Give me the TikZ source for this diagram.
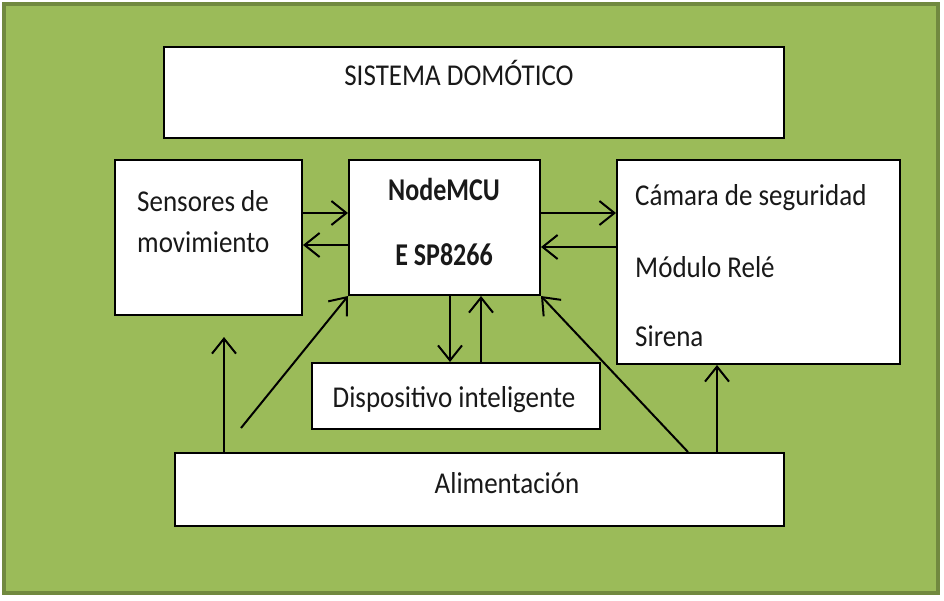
\documentclass[tikz,border=0pt]{standalone}
\usepackage{fontspec}
\setmainfont{Carlito}
\usetikzlibrary{arrows.meta}
\definecolor{bggreen}{HTML}{9BBB59}
\definecolor{edgegreen}{HTML}{71893F}
\newcommand{\tx}[1]{\scalebox{1}[1.12]{#1}}
\newcommand{\tb}[1]{\scalebox{1}[1.22]{\bfseries #1}}
\tikzset{
  box/.style={draw=black, fill=white, line width=2pt, inner sep=0pt},
  lbl/.style={inner sep=0pt, font=\fontsize{27}{32}\selectfont, text=black!90},
  blbl/.style={inner sep=0pt, font=\fontsize{26}{32}\selectfont, text=black!90},
  conn/.style={line width=2pt, -{Straight Barb[length=15pt, width=24pt, line width=2pt]}}
}
\begin{document}
\begin{tikzpicture}[x=1pt, y=-1pt]
\useasboundingbox (0,0) rectangle (944,600);
\fill[white] (0,0) rectangle (944,600);
\draw[fill=bggreen, draw=edgegreen, line width=4pt] (4,4) rectangle (938,593);

% boxes
\node[box, minimum width=620pt, minimum height=91pt] (sys) at (474,92.5) {};
\node[box, minimum width=187pt, minimum height=155pt] (sens) at (208.5,237.5) {};
\node[box, minimum width=191pt, minimum height=135pt] (mcu) at (444.5,227.5) {};
\node[box, minimum width=283pt, minimum height=204pt] (act) at (758.5,262) {};
\node[box, minimum width=288pt, minimum height=66pt] (disp) at (456,396) {};
\node[box, minimum width=609pt, minimum height=73pt] (ali) at (479.5,489.5) {};

% texts
\node[lbl, anchor=base] (tsys) at (459,85) {\tx{SISTEMA DOMÓTICO}};
\node[lbl, anchor=base west] (ts1) at (137,211) {\tx{Sensores de}};
\node[lbl, anchor=base west] (ts2) at (137,252) {\tx{movimiento}};
\node[blbl, anchor=base] (tm1) at (444,200) {\tb{NodeMCU}};
\node[blbl, anchor=base] (tm2) at (444,265) {\tb{E SP8266}};
\node[lbl, anchor=base west] (ta1) at (635,205) {\tx{Cámara de seguridad}};
\node[lbl, anchor=base west] (ta2) at (635,277) {\tx{Módulo Relé}};
\node[lbl, anchor=base west] (ta3) at (635,346) {\tx{Sirena}};
\node[lbl, anchor=base] (td) at (454,407) {\tx{Dispositivo inteligente}};
\node[lbl, anchor=base] (tal) at (507,493) {\tx{Alimentación}};

% free ends
\coordinate (sup) at (224,337);
\coordinate (dstart) at (241,428);

% connectors
\draw[conn] (sens.east |- 0,213) -- (mcu.west |- 0,213);
\draw[conn] (mcu.west |- 0,245) -- (sens.east |- 0,245);
\draw[conn] (mcu.east |- 0,213) -- (act.west |- 0,213);
\draw[conn] (act.west |- 0,247) -- (mcu.east |- 0,247);
\draw[conn] (mcu.south -| 450,0) -- (disp.north -| 450,0);
\draw[conn] (disp.north -| 481,0) -- (mcu.south -| 481,0);
\draw[conn] (ali.north -| sup) -- (sup);
\draw[conn] (dstart) -- (mcu.south west);
\draw[conn] (ali.north -| 688,0) -- (mcu.south east);
\draw[conn] (ali.north -| 717,0) -- (act.south -| 717,0);
\end{tikzpicture}
\end{document}
